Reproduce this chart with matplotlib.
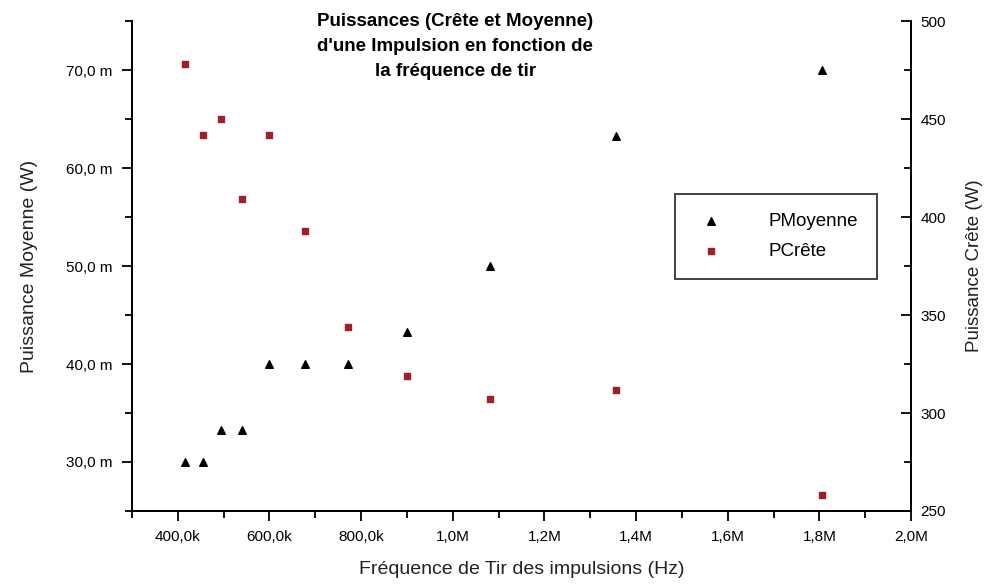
import matplotlib
matplotlib.use("Agg")
import matplotlib.pyplot as plt
from matplotlib.ticker import FuncFormatter, MultipleLocator

plt.rcParams['font.family'] = ['Liberation Sans', 'DejaVu Sans']

# frequency (Hz)
freq = [416.7e3, 454.5e3, 494e3, 540e3, 600e3, 677e3, 771e3, 901e3, 1082e3, 1357e3, 1805e3]
# mean power (W)
p_moy = [30.0e-3, 30.0e-3, 33.3e-3, 33.3e-3, 40.0e-3, 40.0e-3, 40.0e-3, 43.3e-3, 50.0e-3, 63.3e-3, 70.0e-3]
# peak power (W)
p_crete = [478, 442, 450, 409, 442, 393, 344, 319, 307, 312, 258]

fig = plt.figure(figsize=(9.94, 5.88), dpi=100)
ax = fig.add_axes([0.1328, 0.131, 0.7837, 0.833])
ax2 = ax.twinx()

h1 = ax.scatter(freq, p_moy, marker='^', s=30, color='black', label='PMoyenne', zorder=3)
h2 = ax2.scatter(freq, p_crete, marker='s', s=14, color='#a0202a', label='PCrête', zorder=3)

ax.set_xlim(300e3, 2.0e6)
ax.set_ylim(25e-3, 75e-3)
ax2.set_ylim(250, 500)

def fmt_x(v, pos):
    if v < 1e6:
        return f"{v/1e3:.1f}k".replace('.', ',')
    return f"{v/1e6:.1f}M".replace('.', ',')

def fmt_y(v, pos):
    return f"{v*1e3:.1f} m".replace('.', ',')

ax.xaxis.set_major_locator(MultipleLocator(200e3))
ax.xaxis.set_minor_locator(MultipleLocator(100e3))
ax.xaxis.set_major_formatter(FuncFormatter(fmt_x))
ax.yaxis.set_major_locator(MultipleLocator(10e-3))
ax.yaxis.set_minor_locator(MultipleLocator(5e-3))
ax.yaxis.set_major_formatter(FuncFormatter(fmt_y))
ax2.yaxis.set_major_locator(MultipleLocator(50))
ax2.yaxis.set_minor_locator(MultipleLocator(25))

for a in (ax, ax2):
    a.spines['top'].set_visible(False)
    for s in a.spines.values():
        s.set_linewidth(1.3)

ax.tick_params(axis='both', which='major', direction='out', length=7, width=1.3, labelsize=11, pad=7)
ax.tick_params(axis='both', which='minor', direction='out', length=5, width=1.3)
ax2.tick_params(axis='y', which='major', direction='in', length=7, width=1.3, labelsize=11, pad=7)
ax2.tick_params(axis='y', which='minor', direction='in', length=5, width=1.3)

ax.set_xlabel('Fréquence de Tir des impulsions (Hz)', fontsize=14, labelpad=12, color='#222222')
ax.set_ylabel('Puissance Moyenne (W)', fontsize=14, labelpad=20, color='#222222')
ax2.set_ylabel('Puissance Crête (W)', fontsize=13.5, labelpad=14, color='#222222')

fig.text(0.458, 0.978, "Puissances (Crête et Moyenne)\nd'une Impulsion en fonction de\nla fréquence de tir",
         ha='center', va='top', fontsize=13.5, fontweight='bold', linespacing=1.6)

leg = ax.legend([h1, h2], ['PMoyenne', 'PCrête'], loc='upper left',
                bbox_to_anchor=(0.697, 0.647), frameon=True, fancybox=False,
                fontsize=13.5, handletextpad=2.2, borderpad=1.0, labelspacing=0.7,
                handlelength=1.8, edgecolor='black', markerscale=1.0, borderaxespad=0)
leg.get_frame().set_linewidth(1.3)

fig.savefig('out.png', dpi=100)
